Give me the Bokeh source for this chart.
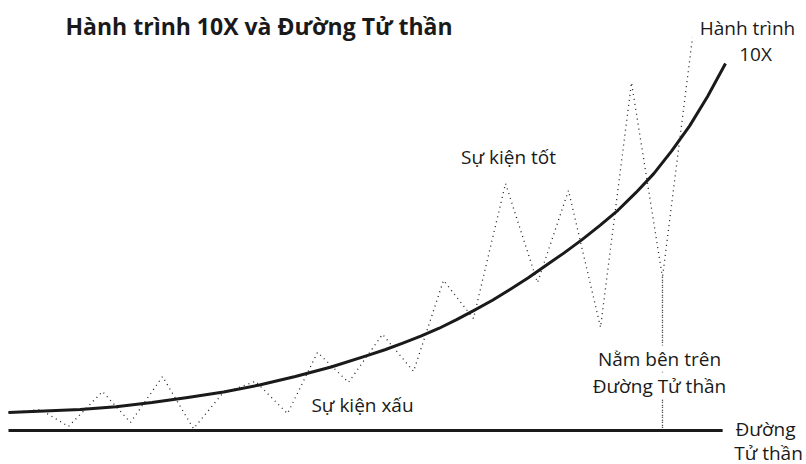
from bokeh.plotting import figure
from bokeh.models import Range1d, Label
from bokeh.embed import file_html
from bokeh.resources import INLINE

# ---- data (time 0..100, value 0..100; death line at 0) ----
curve_x = [0, 5, 10, 15, 20, 25, 30, 35, 40, 45, 50, 52.5, 55, 57.5, 60, 62.5, 65, 67.5,
           70, 72.5, 75, 77.5, 80, 82.5, 85, 87.5, 90, 92.5, 95, 97.5, 100]
curve_y = [4.9, 5.3, 5.7, 6.5, 7.6, 9.0, 10.5, 12.4, 14.7, 17.3, 20.4, 22.0, 23.8, 25.7,
           27.8, 30.2, 32.8, 35.5, 38.5, 41.6, 45.0, 48.4, 52.0, 55.9, 60.0, 64.8, 70.0,
           76.2, 83.0, 91.0, 100.0]

path_x = [0, 4.46, 8.37, 13.11, 17.02, 21.48, 25.80, 29.85, 34.45, 38.91, 43.10, 47.42,
          52.16, 56.49, 60.67, 64.85, 69.32, 73.78, 78.10, 82.57, 86.89, 91.21, 91.21,
          91.21, 95.40]
path_y = [4.9, 5.7, 1.1, 10.6, 2.2, 14.7, 0.5, 10.1, 13.4, 4.6, 21.3, 13.1, 26.2, 16.1,
          40.9, 30.5, 67.3, 40.3, 65.4, 28.1, 94.8, 41.7, 0.5, 41.7, 107.1]

death_x = [0, 99.6]
death_y = [0, 0]

title = "Hành trình 10X và Đường Tử thần"

# ---- layout helpers (page pixel -> data) ----
W, H = 806, 464
SX, SY = 7.17, 3.67
def px(x):
    return (x - 8) / SX
def py(y):
    return (430 - y) / SY

p = figure(width=W, height=H, x_range=Range1d(px(0), px(W)),
           y_range=Range1d(py(H), py(0)), x_axis_type=None, y_axis_type=None,
           min_border=0, toolbar_location=None, output_backend="svg")
p.grid.visible = False
p.outline_line_color = None
p.background_fill_color = "white"
p.border_fill_color = "white"

p.line(death_x, death_y, line_color="#1a1a1a", line_width=3)
p.line(path_x, path_y, line_color="#222222", line_width=1.3, line_dash="1 4")
p.line(curve_x, curve_y, line_color="#1a1a1a", line_width=3, line_join="round")

FONT = "Open Sans"
def lab(text, x, y, align="center", size="19px", bold=False, bg=None):
    l = Label(x=px(x), y=py(y), text=text, text_align=align, text_baseline="middle",
              text_font=FONT, text_font_size=size, text_color="#1a1a1a",
              text_font_style="bold" if bold else "normal")
    if bg:
        l.background_fill_color = bg
    p.add_layout(l)

lab(title, 65, 25, align="left", size="23px", bold=True)
lab("Hành trình", 747, 27)
lab("10X", 755, 53)
lab("Sự kiện tốt", 508, 156)
lab("Sự kiện xấu", 362, 404)
lab("Nằm bên trên", 659, 358, bg="white")
lab("Đường Tử thần", 659, 385, bg="white")
lab("Đường", 765, 428)
lab("Tử thần", 768, 452)

open("out.html", "w").write(file_html(p, INLINE))
